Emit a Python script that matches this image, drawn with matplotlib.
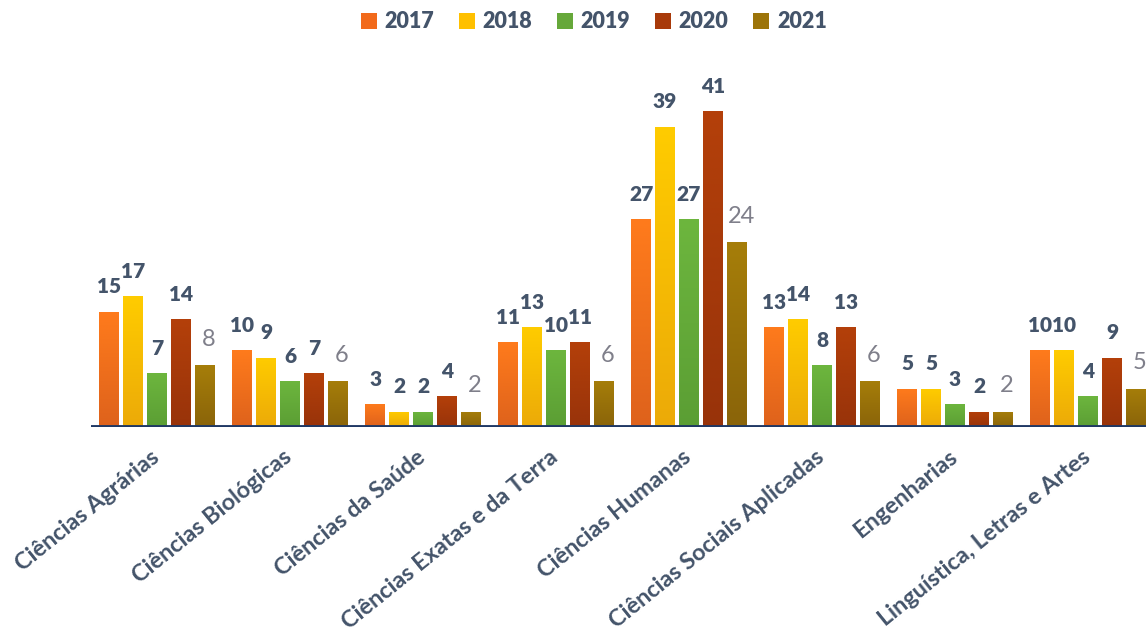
import matplotlib
matplotlib.use("Agg")
import matplotlib.pyplot as plt
import numpy as np
from matplotlib.colors import LinearSegmentedColormap
from matplotlib.patches import Patch
from matplotlib.transforms import ScaledTranslation

categories = ["Ciências Agrárias", "Ciências Biológicas", "Ciências da Saúde",
              "Ciências Exatas e da Terra", "Ciências Humanas",
              "Ciências Sociais Aplicadas", "Engenharias",
              "Linguística, Letras e Artes"]
years = ["2017", "2018", "2019", "2020", "2021"]
v2017 = [15, 10, 3, 11, 27, 13, 5, 10]
v2018 = [17, 9, 2, 13, 39, 14, 5, 10]
v2019 = [7, 6, 2, 10, 27, 8, 3, 4]
v2020 = [14, 7, 4, 11, 41, 13, 2, 9]
v2021 = [8, 6, 2, 6, 24, 6, 2, 5]
series = [v2017, v2018, v2019, v2020, v2021]

top_cols = ["#FF7B1C", "#FFCC00", "#6DB63E", "#B4400A", "#A67E0A"]
bot_cols = ["#DE621C", "#ECAA08", "#5B9E34", "#98330A", "#8A6409"]
legend_cols = ["#F26A1B", "#FFC000", "#66A83A", "#A83A0A", "#9C7409"]

label_col = "#44546A"
fam = ["Lato", "DejaVu Sans"]

fig = plt.figure(figsize=(11.46, 6.36), dpi=100)
W, H = 1146, 636
x0, y0 = 90.5, 427
unit = 7.7
cat_w = 133
ax = fig.add_axes([x0 / W, (H - y0) / H, 8 * cat_w / W, 45 * unit / H])
ax.set_xlim(-0.5, 7.5)
ax.set_ylim(0, 45)

x = np.arange(len(categories))
bw = 0.15
step = 0.18
grad = np.linspace(1, 0, 256).reshape(-1, 1)
for i, vals in enumerate(series):
    off = (i - 2) * step
    bars = ax.bar(x + off, vals, width=bw, color=legend_cols[i], zorder=2)
    cmap = LinearSegmentedColormap.from_list("g%d" % i, [bot_cols[i], top_cols[i]])
    for b in bars:
        bx, by = b.get_x(), b.get_y()
        bwid, bh = b.get_width(), b.get_height()
        im = ax.imshow(grad, cmap=cmap, extent=[bx, bx + bwid, by, by + bh],
                       aspect="auto", zorder=3, interpolation="bicubic")
        im.set_clip_path(b)
    for xi, v in zip(x + off, vals):
        if i < 4:
            ax.annotate(str(v), (xi, v), xytext=(0, 11), textcoords="offset points",
                        ha="center", va="bottom", fontsize=15, fontweight="heavy",
                        color=label_col, family=fam)
        else:
            ax.annotate(str(v), (xi, v), xytext=(3, 11), textcoords="offset points",
                        ha="center", va="bottom", fontsize=17, fontweight="normal",
                        color="#7F7F8A", family=fam)

ax.axhline(0, color="#1F3864", lw=3.5, zorder=4)
for s in ["top", "right", "left", "bottom"]:
    ax.spines[s].set_visible(False)
ax.set_yticks([])
ax.set_xticks(x)
ax.set_xticklabels(categories, rotation=39, ha="right", rotation_mode="anchor",
                   fontsize=16.8, fontweight="bold", color=label_col, family=fam)
ax.tick_params(axis="x", length=0, pad=14)
shift = ScaledTranslation(-7 / 100, 0, fig.dpi_scale_trans)
for lab in ax.get_xticklabels():
    lab.set_transform(lab.get_transform() + shift)

handles = [Patch(facecolor=c, edgecolor="none") for c in legend_cols]
fig.legend(handles, years, loc="center", bbox_to_anchor=(0.518, 0.966), ncol=5,
           frameon=False, handlelength=0.75, handleheight=0.75, handletextpad=0.35,
           columnspacing=1.15, prop={"family": fam, "weight": "heavy", "size": 15.5},
           labelcolor=label_col)

fig.savefig("out.png", dpi=100)
